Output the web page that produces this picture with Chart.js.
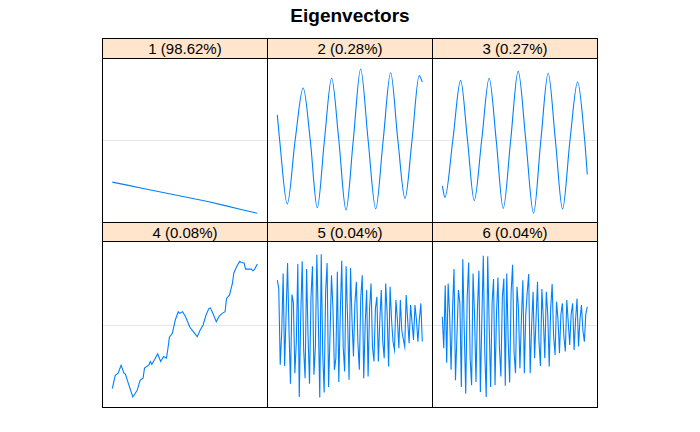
<!DOCTYPE html>
<html>
<head>
<meta charset="utf-8">
<script src="https://cdn.jsdelivr.net/npm/chart.js@4"></script>
<style>
    body { margin: 0; background: #ffffff; font-family: "Liberation Sans", Arial, sans-serif; }
    #wrap { position: relative; width: 700px; height: 432px; }
    #titulo { position: absolute; left: 0; top: 5px; width: 700px; text-align: center; font-weight: bold; font-size: 19px; line-height: 22px; color: #000; }
    .strip { position: absolute; box-sizing: border-box; background: #ffe5cc; border: 1px solid #000; text-align: center; font-size: 15px; line-height: 19px; color: #000; }
    .frame { position: absolute; box-sizing: border-box; border: 1px solid #000; pointer-events: none; }
    .box { position: absolute; }
</style>
</head>
<body>
<div id="wrap">
    <div id="titulo">Eigenvectors</div>
</div>

<script>
// rótulos dos painéis
const rotulos = ['1 (98.62%)', '2 (0.28%)', '3 (0.27%)', '4 (0.08%)', '5 (0.04%)', '6 (0.04%)'];

// vetor 1
const x1 = [1, 12, 23, 34, 45, 56, 67, 78, 89, 100];
const y1 = [-0.077, -0.083, -0.089, -0.095, -0.101, -0.107, -0.113, -0.120, -0.127, -0.134];

// vetor 2 (picos, vales e cruzamentos)
const x2 = [1, 2.6, 7.8, 13.2, 18.7, 23.5, 28.3, 33.2, 38.1, 43, 47.9, 52.9, 57.9, 63, 68.2, 73.3, 78.4, 83.3, 88.2, 93, 97.9, 100];
const y2 = [0.046, 0, -0.117, 0, 0.095, 0, -0.124, 0, 0.113, 0, -0.128, 0, 0.130, 0, -0.126, 0, 0.123, 0, -0.107, 0, 0.118, 0.106];

// vetor 3
const x3 = [1, 2.8, 8.2, 13.5, 18.2, 22.8, 27.9, 33, 37.8, 42.6, 47.7, 52.8, 58, 63.3, 68.3, 73.3, 78.2, 83.1, 88.2, 93.4, 98.2, 100];
const y3 = [-0.084, -0.105, 0, 0.109, 0, -0.111, 0, 0.113, 0, -0.125, 0, 0.126, 0, -0.134, 0, 0.122, 0, -0.126, 0, 0.106, 0, -0.063];

// vetor 4
const x4 = [1, 3, 5, 7, 9, 10, 12, 15, 18, 20, 22, 23, 26, 27, 28, 30, 32, 34, 36, 38, 39, 40, 42, 44, 46, 47, 49, 51, 54, 56,
    59, 61, 63, 65, 67, 68, 70, 72, 74, 76, 78, 79, 81, 83, 84, 86, 88, 89, 91, 92, 94, 96, 97, 98, 100];
const y4 = [-0.115, -0.091, -0.087, -0.073, -0.087, -0.089, -0.106, -0.130, -0.118, -0.100, -0.096, -0.078, -0.072, -0.066, -0.071,
    -0.062, -0.052, -0.066, -0.057, -0.060, -0.042, -0.022, -0.015, 0.009, 0.024, 0.021, 0.024, 0.015, -0.004, -0.011,
    -0.021, -0.009, 0.000, 0.018, 0.030, 0.031, 0.019, 0.006, 0.016, 0.021, 0.024, 0.048, 0.054, 0.075, 0.094,
    0.106, 0.115, 0.113, 0.112, 0.101, 0.101, 0.101, 0.098, 0.100, 0.110];

// vetores 5 e 6 (um valor por índice 1..100)
const y5 = [0.081, 0.066, -0.072, -0.015, 0.093, -0.074, 0.020, 0.112, -0.010, -0.106,
    0.055, 0.040, -0.087, -0.030, 0.110, -0.130, 0.015, 0.115, -0.045, -0.096,
    0.101, -0.020, -0.106, 0.050, 0.106, -0.090, -0.040, 0.127, 0.010, -0.131,
    0.128, -0.050, -0.122, 0.060, 0.112, -0.112, -0.020, 0.090, 0.030, -0.081,
    -0.060, 0.096, -0.103, 0.020, 0.116, -0.040, -0.084, 0.106, 0.010, -0.099,
    0.103, 0.010, -0.057, 0.040, 0.078, -0.030, -0.081, 0.050, 0.090, -0.096,
    0.000, 0.063, -0.093, 0.030, 0.075, -0.040, -0.066, 0.030, 0.051, -0.066,
    0.010, 0.063, -0.030, -0.060, 0.075, 0.020, -0.075, 0.069, 0.010, -0.030,
    -0.045, 0.045, 0.010, -0.042, 0.045, -0.010, -0.025, -0.039, 0.054, 0.010,
    -0.033, 0.036, 0.005, -0.027, 0.036, 0.010, -0.030, 0.010, 0.039, -0.030];
const y6 = [0.015, -0.042, 0.072, -0.068, 0.075, 0.020, -0.081, 0.030, 0.101, -0.100,
    -0.020, 0.063, 0.040, -0.112, 0.119, -0.010, -0.124, 0.050, 0.113, -0.060,
    -0.109, 0.093, 0.020, -0.103, 0.030, 0.098, -0.121, 0.010, 0.125, -0.050,
    -0.130, 0.124, 0.000, -0.112, 0.040, 0.083, -0.109, 0.020, 0.086, -0.040,
    -0.093, 0.050, 0.084, -0.110, 0.093, -0.030, -0.104, 0.060, 0.109, -0.050,
    -0.087, 0.069, 0.030, -0.078, 0.010, 0.081, -0.087, 0.020, 0.060, 0.092,
    -0.087, 0.000, 0.060, -0.060, 0.010, 0.078, -0.030, -0.074, 0.065, 0.010,
    -0.060, 0.060, 0.020, -0.075, 0.030, 0.074, -0.020, -0.054, 0.042, 0.010,
    -0.051, 0.020, 0.039, -0.020, -0.048, 0.045, 0.005, -0.036, 0.020, 0.039,
    -0.045, 0.010, 0.048, -0.039, 0.010, 0.036, -0.010, -0.030, 0.020, 0.033];

const indices = [];
for (let i = 1; i <= 100; i++) indices.push(i);

const listaX = [x1, x2, x3, x4, indices, indices];
const listaY = [y1, y2, y3, y4, y5, y6];
const suave = [false, true, true, false, false, false];

// linha cinza no zero
const linhaZero = {
    id: 'linhaZero',
    beforeDatasetsDraw(chart) {
        const ctx = chart.ctx;
        const area = chart.chartArea;
        const y = Math.round(chart.scales.y.getPixelForValue(0)) + 0.5;
        ctx.save();
        ctx.strokeStyle = '#e6e6e6';
        ctx.lineWidth = 1;
        ctx.beginPath();
        ctx.moveTo(area.left, y);
        ctx.lineTo(area.right, y);
        ctx.stroke();
        ctx.restore();
    }
};

const wrap = document.getElementById('wrap');
const colEsq = [102, 267, 432];
const linhaStrip = [38, 222];
const linhaPlot = [58, 241];
const altPlot = [165, 167];
const limY = [[-0.1518, 0.15], [-0.150, 0.1518]];

var graficos = [];

for (let p = 0; p < 6; p++) {
    const r = Math.floor(p / 3);
    const c = p % 3;
    const esq = colEsq[c];

    const strip = document.createElement('div');
    strip.className = 'strip';
    strip.style.left = esq + 'px';
    strip.style.top = linhaStrip[r] + 'px';
    strip.style.width = '166px';
    strip.style.height = (linhaPlot[r] - linhaStrip[r] + 1) + 'px';
    strip.textContent = rotulos[p];
    wrap.appendChild(strip);

    const box = document.createElement('div');
    box.className = 'box';
    box.style.left = esq + 'px';
    box.style.top = linhaPlot[r] + 'px';
    box.style.width = '166px';
    box.style.height = altPlot[r] + 'px';
    const canvas = document.createElement('canvas');
    canvas.width = 166;
    canvas.height = altPlot[r];
    box.appendChild(canvas);
    wrap.appendChild(box);

    const frame = document.createElement('div');
    frame.className = 'frame';
    frame.style.left = esq + 'px';
    frame.style.top = linhaPlot[r] + 'px';
    frame.style.width = '166px';
    frame.style.height = altPlot[r] + 'px';
    wrap.appendChild(frame);

    const pontos = listaX[p].map((x, i) => ({ x: x, y: listaY[p][i] }));

    graficos.push(new Chart(canvas, {
        type: 'line',
        data: {
            datasets: [{
                label: rotulos[p],
                data: pontos,
                borderColor: '#0080ff',
                backgroundColor: 'transparent',
                borderWidth: 1.1,
                pointRadius: 0,
                fill: false,
                cubicInterpolationMode: suave[p] ? 'monotone' : 'default',
                tension: 0
            }]
        },
        options: {
            responsive: false,
            animation: false,
            devicePixelRatio: 1,
            layout: { padding: 0 },
            scales: {
                x: { type: 'linear', display: false, min: -6.03, max: 107.31 },
                y: { display: false, min: limY[r][0], max: limY[r][1] }
            },
            plugins: {
                legend: { display: false },
                tooltip: { enabled: false }
            }
        },
        plugins: [linhaZero]
    }));
}
</script>
</body>
</html>
